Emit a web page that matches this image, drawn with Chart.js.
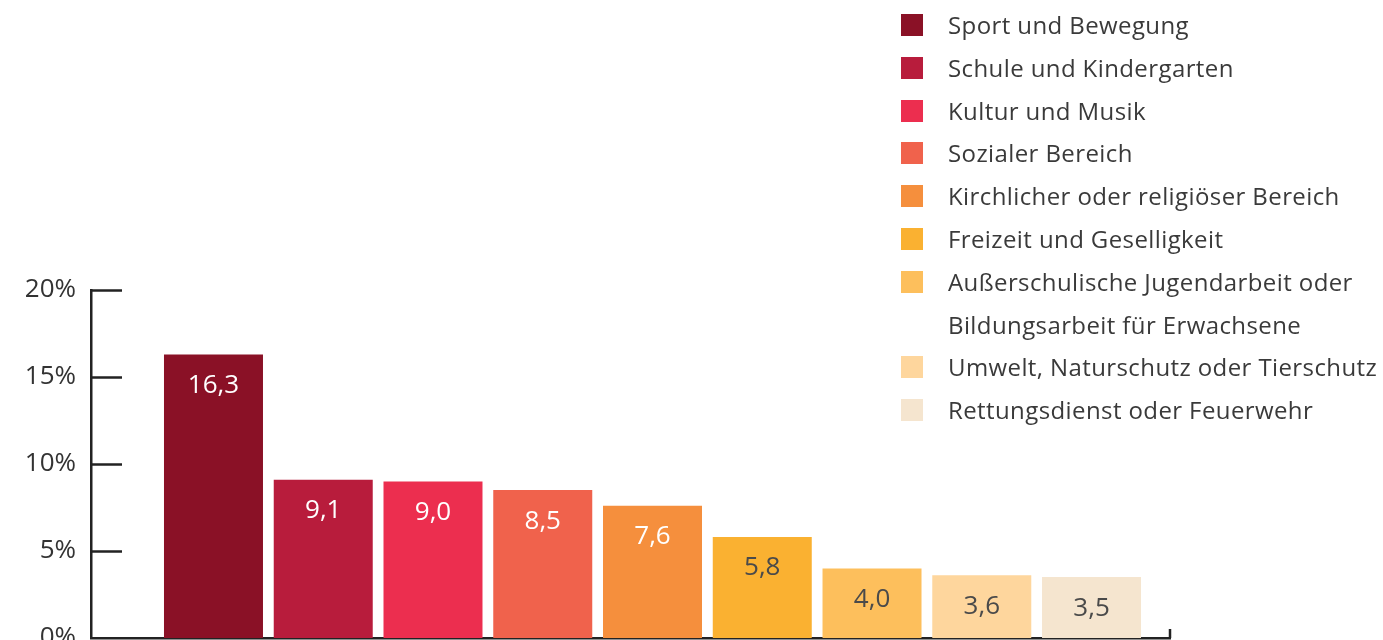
<!DOCTYPE html>
<html>
<head>
<meta charset="utf-8">
<script src="https://cdn.jsdelivr.net/npm/chart.js@4/dist/chart.umd.min.js"></script>
<style>
  html, body { margin: 0; padding: 0; background: #fff; }
  #wrap { position: relative; width: 1383px; height: 640px; overflow: hidden; }
  #c { position: absolute; left: 0; top: 0; }
  #legend { position: absolute; left: 901px; top: 11px; font-family: "Open Sans", sans-serif; font-size: 24px; letter-spacing: 0.4px; color: #3a3a3a; }
  .row { position: relative; height: 42.8px; line-height: 28px; padding-left: 47px; white-space: nowrap; }
  .sw { position: absolute; left: 0; top: 3px; width: 22px; height: 22px; }
</style>
</head>
<body>
<div id="wrap">
  <canvas id="c" width="1383" height="640"></canvas>
  <div id="legend"></div>
</div>
<script>
const categories = [
  "Sport und Bewegung",
  "Schule und Kindergarten",
  "Kultur und Musik",
  "Sozialer Bereich",
  "Kirchlicher oder religiöser Bereich",
  "Freizeit und Geselligkeit",
  ["Außerschulische Jugendarbeit oder", "Bildungsarbeit für Erwachsene"],
  "Umwelt, Naturschutz oder Tierschutz",
  "Rettungsdienst oder Feuerwehr"
];
const values = [16.3, 9.1, 9.0, 8.5, 7.6, 5.8, 4.0, 3.6, 3.5];
const colors = ["#8A1126", "#B81C3C", "#EC2E4F", "#F0624C", "#F58F3D", "#FAB131", "#FDBF5C", "#FED69D", "#F5E5CF"];
const labelColors = ["#ffffff", "#ffffff", "#ffffff", "#ffffff", "#ffffff", "#4a4a4a", "#4a4a4a", "#4a4a4a", "#4a4a4a"];
const yTicks = [0, 5, 10, 15, 20];

// HTML legend
const legend = document.getElementById('legend');
categories.forEach((cat, i) => {
  const lines = Array.isArray(cat) ? cat : [cat];
  lines.forEach((line, j) => {
    const row = document.createElement('div');
    row.className = 'row';
    if (j === 0) {
      const sw = document.createElement('span');
      sw.className = 'sw';
      sw.style.background = colors[i];
      row.appendChild(sw);
    }
    row.appendChild(document.createTextNode(line));
    legend.appendChild(row);
  });
});

const FONT = '"Open Sans", sans-serif';

const extras = {
  id: 'extras',
  afterDatasetsDraw(chart) {
    const ctx = chart.ctx;
    const y = chart.scales.y;
    const x = chart.scales.x;
    ctx.save();
    // inward y ticks
    ctx.strokeStyle = '#222';
    ctx.lineWidth = 2.5;
    yTicks.forEach(t => {
      if (t === 0) return;
      const py = Math.round(y.getPixelForValue(t)) + 0.5;
      ctx.beginPath();
      ctx.moveTo(x.left, py);
      ctx.lineTo(x.left + 31, py);
      ctx.stroke();
    });
    // right-end tick on x axis
    ctx.beginPath();
    ctx.moveTo(x.right, y.bottom);
    ctx.lineTo(x.right, y.bottom - 9);
    ctx.stroke();
    // value labels
    const meta = chart.getDatasetMeta(0);
    ctx.font = '400 26px ' + FONT;
    ctx.textAlign = 'center';
    ctx.textBaseline = 'middle';
    meta.data.forEach((bar, i) => {
      ctx.fillStyle = labelColors[i];
      ctx.fillText(values[i].toFixed(1).replace('.', ','), bar.x, bar.y + 31);
    });
    ctx.restore();
  }
};

new Chart(document.getElementById('c'), {
  type: 'bar',
  data: {
    datasets: [{
      data: values.map((v, i) => ({ x: i, y: v })),
      backgroundColor: colors,
      borderWidth: 0,
      barPercentage: 0.902,
      categoryPercentage: 1.0
    }]
  },
  options: {
    responsive: false,
    animation: false,
    events: [],
    layout: { padding: { top: 290, right: 213, bottom: 2, left: 0 } },
    plugins: { legend: { display: false }, tooltip: { enabled: false } },
    scales: {
      x: {
        type: 'linear',
        min: -1.116,
        max: 8.715,
        offset: false,
        afterBuildTicks(scale) { scale.ticks = values.map((v, i) => ({ value: i })); },
        afterFit(scale) { scale.height = 0; },
        grid: { display: false, drawTicks: false },
        border: { display: true, color: '#222', width: 2.5 },
        ticks: { display: false }
      },
      y: {
        min: 0,
        max: 20,
        afterFit(scale) { scale.width = 91; scale.paddingTop = 0; scale.paddingBottom = 0; },
        afterBuildTicks(scale) { scale.ticks = yTicks.map(v => ({ value: v })); },
        grid: { display: false, drawTicks: false },
        border: { display: true, color: '#222', width: 2.5 },
        ticks: {
          padding: 15,
          color: '#333',
          font: { family: FONT, size: 26 },
          callback: v => v + '%'
        }
      }
    }
  },
  plugins: [extras]
});
</script>
</body>
</html>
